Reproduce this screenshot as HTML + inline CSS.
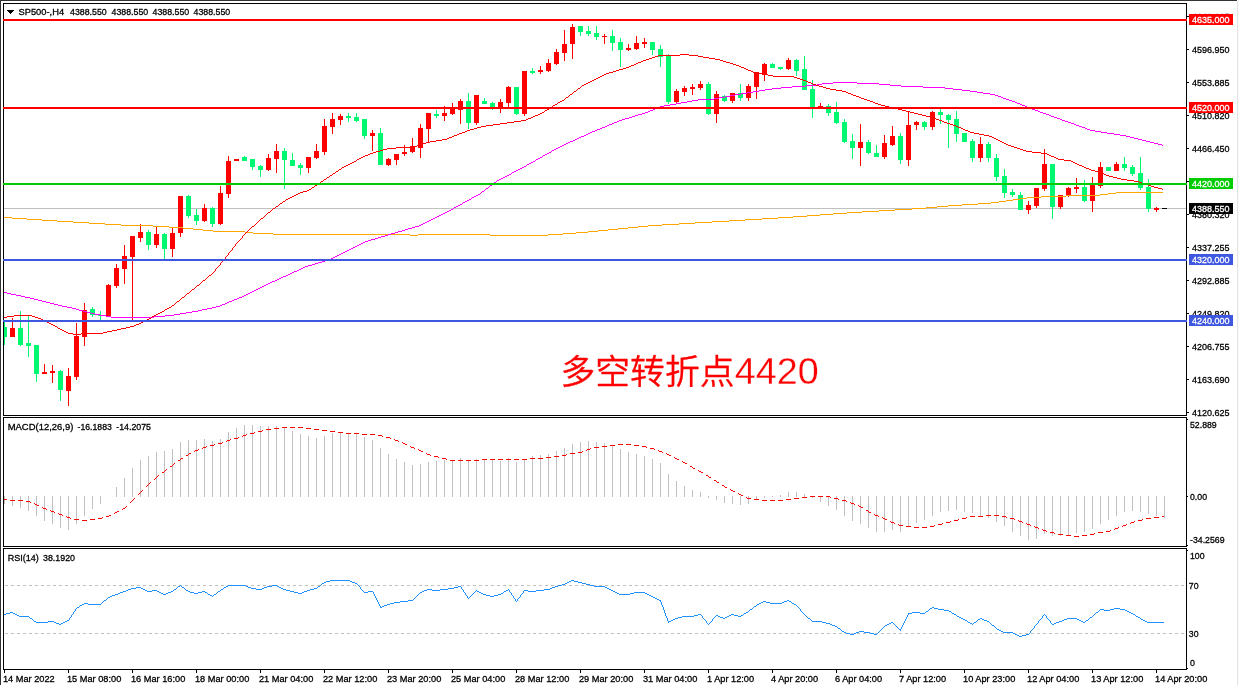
<!DOCTYPE html>
<html lang="zh"><head><meta charset="utf-8"><title>SP500 H4</title>
<style>html,body{margin:0;padding:0;background:#fff}svg text{white-space:pre}svg{will-change:transform}</style></head>
<body>
<svg width="1239" height="685" viewBox="0 0 1239 685" style="display:block">
<rect width="1239" height="685" fill="#fff"/>
<g shape-rendering="crispEdges">
<rect x="0" y="0" width="1237" height="1" fill="#333"/>
<rect x="0" y="0" width="1" height="685" fill="#333"/>
<rect x="1237" y="1" width="1" height="684" fill="#e4e4e4"/>
<rect x="1238" y="1" width="1" height="684" fill="#fafafa"/>
<rect x="3" y="3" width="1184" height="1" fill="#000"/>
<rect x="3" y="415" width="1184" height="1" fill="#000"/>
<rect x="3" y="3" width="1" height="413" fill="#000"/>
<rect x="1186" y="3" width="1" height="413" fill="#000"/>
<rect x="3" y="417" width="1184" height="1" fill="#000"/>
<rect x="3" y="546" width="1184" height="1" fill="#000"/>
<rect x="3" y="417" width="1" height="130" fill="#000"/>
<rect x="1186" y="417" width="1" height="130" fill="#000"/>
<rect x="3" y="548" width="1184" height="1" fill="#000"/>
<rect x="3" y="669" width="1184" height="1" fill="#000"/>
<rect x="3" y="548" width="1" height="122" fill="#000"/>
<rect x="1186" y="548" width="1" height="122" fill="#000"/>
</g>
<defs><clipPath id="cm"><rect x="4" y="4" width="1182" height="411"/></clipPath><clipPath id="cl"><rect x="3" y="4" width="1184" height="411"/></clipPath></defs>
<g clip-path="url(#cm)">
<g shape-rendering="crispEdges">
<rect x="4" y="208" width="1182" height="1" fill="#c0c0c0"/>
</g>
<g shape-rendering="crispEdges">
<rect x="4" y="320" width="1" height="25" fill="#00f772"/>
<rect x="2" y="327" width="5" height="10" fill="#00f772"/>
<rect x="12" y="318" width="1" height="19" fill="#ff0000"/>
<rect x="10" y="328" width="5" height="9" fill="#ff0000"/>
<rect x="20" y="311" width="1" height="35" fill="#00f772"/>
<rect x="18" y="328" width="5" height="17" fill="#00f772"/>
<rect x="28" y="315" width="1" height="42" fill="#00f772"/>
<rect x="26" y="343" width="5" height="3" fill="#00f772"/>
<rect x="36" y="345" width="1" height="37" fill="#00f772"/>
<rect x="34" y="345" width="5" height="29" fill="#00f772"/>
<rect x="44" y="364" width="1" height="10" fill="#ff0000"/>
<rect x="42" y="372" width="5" height="2" fill="#ff0000"/>
<rect x="52" y="365" width="1" height="18" fill="#ff0000"/>
<rect x="50" y="371" width="5" height="2" fill="#ff0000"/>
<rect x="60" y="370" width="1" height="31" fill="#00f772"/>
<rect x="58" y="371" width="5" height="19" fill="#00f772"/>
<rect x="68" y="368" width="1" height="38" fill="#ff0000"/>
<rect x="66" y="376" width="5" height="15" fill="#ff0000"/>
<rect x="76" y="323" width="1" height="57" fill="#ff0000"/>
<rect x="74" y="336" width="5" height="41" fill="#ff0000"/>
<rect x="84" y="303" width="1" height="43" fill="#ff0000"/>
<rect x="82" y="310" width="5" height="27" fill="#ff0000"/>
<rect x="92" y="307" width="1" height="10" fill="#00f772"/>
<rect x="90" y="309" width="5" height="6" fill="#00f772"/>
<rect x="100" y="311" width="1" height="9" fill="#00f772"/>
<rect x="98" y="315" width="5" height="1" fill="#00f772"/>
<rect x="108" y="284" width="1" height="32" fill="#ff0000"/>
<rect x="106" y="285" width="5" height="31" fill="#ff0000"/>
<rect x="116" y="264" width="1" height="24" fill="#ff0000"/>
<rect x="114" y="268" width="5" height="18" fill="#ff0000"/>
<rect x="124" y="245" width="1" height="39" fill="#ff0000"/>
<rect x="122" y="256" width="5" height="13" fill="#ff0000"/>
<rect x="132" y="236" width="1" height="84" fill="#ff0000"/>
<rect x="130" y="236" width="5" height="21" fill="#ff0000"/>
<rect x="140" y="224" width="1" height="18" fill="#ff0000"/>
<rect x="138" y="232" width="5" height="6" fill="#ff0000"/>
<rect x="148" y="230" width="1" height="20" fill="#00f772"/>
<rect x="146" y="232" width="5" height="13" fill="#00f772"/>
<rect x="156" y="226" width="1" height="22" fill="#ff0000"/>
<rect x="154" y="234" width="5" height="11" fill="#ff0000"/>
<rect x="164" y="233" width="1" height="26" fill="#00f772"/>
<rect x="162" y="234" width="5" height="15" fill="#00f772"/>
<rect x="172" y="228" width="1" height="29" fill="#ff0000"/>
<rect x="170" y="233" width="5" height="16" fill="#ff0000"/>
<rect x="180" y="196" width="1" height="41" fill="#ff0000"/>
<rect x="178" y="196" width="5" height="37" fill="#ff0000"/>
<rect x="188" y="195" width="1" height="23" fill="#00f772"/>
<rect x="186" y="196" width="5" height="20" fill="#00f772"/>
<rect x="196" y="209" width="1" height="16" fill="#00f772"/>
<rect x="194" y="215" width="5" height="6" fill="#00f772"/>
<rect x="204" y="204" width="1" height="18" fill="#ff0000"/>
<rect x="202" y="208" width="5" height="13" fill="#ff0000"/>
<rect x="212" y="207" width="1" height="20" fill="#00f772"/>
<rect x="210" y="208" width="5" height="16" fill="#00f772"/>
<rect x="220" y="186" width="1" height="39" fill="#ff0000"/>
<rect x="218" y="193" width="5" height="31" fill="#ff0000"/>
<rect x="228" y="156" width="1" height="42" fill="#ff0000"/>
<rect x="226" y="161" width="5" height="33" fill="#ff0000"/>
<rect x="236" y="159" width="1" height="2" fill="#ff0000"/>
<rect x="234" y="159" width="5" height="2" fill="#ff0000"/>
<rect x="244" y="156" width="1" height="5" fill="#00f772"/>
<rect x="242" y="157" width="5" height="4" fill="#00f772"/>
<rect x="252" y="159" width="1" height="11" fill="#00f772"/>
<rect x="250" y="159" width="5" height="8" fill="#00f772"/>
<rect x="260" y="165" width="1" height="12" fill="#00f772"/>
<rect x="258" y="166" width="5" height="4" fill="#00f772"/>
<rect x="268" y="154" width="1" height="17" fill="#ff0000"/>
<rect x="266" y="158" width="5" height="12" fill="#ff0000"/>
<rect x="276" y="144" width="1" height="29" fill="#ff0000"/>
<rect x="274" y="151" width="5" height="8" fill="#ff0000"/>
<rect x="284" y="148" width="1" height="41" fill="#00f772"/>
<rect x="282" y="151" width="5" height="9" fill="#00f772"/>
<rect x="292" y="153" width="1" height="13" fill="#00f772"/>
<rect x="290" y="160" width="5" height="6" fill="#00f772"/>
<rect x="300" y="163" width="1" height="12" fill="#00f772"/>
<rect x="298" y="165" width="5" height="3" fill="#00f772"/>
<rect x="308" y="157" width="1" height="16" fill="#ff0000"/>
<rect x="306" y="157" width="5" height="11" fill="#ff0000"/>
<rect x="316" y="144" width="1" height="15" fill="#ff0000"/>
<rect x="314" y="151" width="5" height="7" fill="#ff0000"/>
<rect x="324" y="119" width="1" height="36" fill="#ff0000"/>
<rect x="322" y="126" width="5" height="26" fill="#ff0000"/>
<rect x="332" y="113" width="1" height="21" fill="#ff0000"/>
<rect x="330" y="119" width="5" height="8" fill="#ff0000"/>
<rect x="340" y="114" width="1" height="11" fill="#ff0000"/>
<rect x="338" y="116" width="5" height="4" fill="#ff0000"/>
<rect x="348" y="113" width="1" height="9" fill="#00f772"/>
<rect x="346" y="116" width="5" height="2" fill="#00f772"/>
<rect x="356" y="113" width="1" height="9" fill="#00f772"/>
<rect x="354" y="117" width="5" height="4" fill="#00f772"/>
<rect x="364" y="119" width="1" height="20" fill="#00f772"/>
<rect x="362" y="119" width="5" height="17" fill="#00f772"/>
<rect x="372" y="130" width="1" height="21" fill="#ff0000"/>
<rect x="370" y="133" width="5" height="3" fill="#ff0000"/>
<rect x="380" y="128" width="1" height="37" fill="#00f772"/>
<rect x="378" y="133" width="5" height="32" fill="#00f772"/>
<rect x="388" y="158" width="1" height="8" fill="#ff0000"/>
<rect x="386" y="159" width="5" height="6" fill="#ff0000"/>
<rect x="396" y="154" width="1" height="11" fill="#ff0000"/>
<rect x="394" y="154" width="5" height="6" fill="#ff0000"/>
<rect x="404" y="145" width="1" height="11" fill="#ff0000"/>
<rect x="402" y="152" width="5" height="2" fill="#ff0000"/>
<rect x="412" y="138" width="1" height="15" fill="#ff0000"/>
<rect x="410" y="147" width="5" height="5" fill="#ff0000"/>
<rect x="420" y="124" width="1" height="34" fill="#ff0000"/>
<rect x="418" y="128" width="5" height="20" fill="#ff0000"/>
<rect x="428" y="113" width="1" height="30" fill="#ff0000"/>
<rect x="426" y="113" width="5" height="16" fill="#ff0000"/>
<rect x="436" y="110" width="1" height="8" fill="#00f772"/>
<rect x="434" y="114" width="5" height="2" fill="#00f772"/>
<rect x="444" y="106" width="1" height="15" fill="#ff0000"/>
<rect x="442" y="113" width="5" height="3" fill="#ff0000"/>
<rect x="452" y="103" width="1" height="12" fill="#ff0000"/>
<rect x="450" y="109" width="5" height="5" fill="#ff0000"/>
<rect x="460" y="99" width="1" height="25" fill="#ff0000"/>
<rect x="458" y="101" width="5" height="9" fill="#ff0000"/>
<rect x="468" y="93" width="1" height="36" fill="#00f772"/>
<rect x="466" y="101" width="5" height="22" fill="#00f772"/>
<rect x="476" y="95" width="1" height="30" fill="#ff0000"/>
<rect x="474" y="95" width="5" height="28" fill="#ff0000"/>
<rect x="484" y="98" width="1" height="6" fill="#00f772"/>
<rect x="482" y="101" width="5" height="3" fill="#00f772"/>
<rect x="492" y="102" width="1" height="8" fill="#00f772"/>
<rect x="490" y="103" width="5" height="4" fill="#00f772"/>
<rect x="500" y="99" width="1" height="14" fill="#ff0000"/>
<rect x="498" y="102" width="5" height="7" fill="#ff0000"/>
<rect x="508" y="86" width="1" height="22" fill="#ff0000"/>
<rect x="506" y="87" width="5" height="16" fill="#ff0000"/>
<rect x="516" y="87" width="1" height="28" fill="#00f772"/>
<rect x="514" y="87" width="5" height="27" fill="#00f772"/>
<rect x="524" y="71" width="1" height="45" fill="#ff0000"/>
<rect x="522" y="71" width="5" height="43" fill="#ff0000"/>
<rect x="532" y="68" width="1" height="6" fill="#00f772"/>
<rect x="530" y="71" width="5" height="2" fill="#00f772"/>
<rect x="540" y="66" width="1" height="8" fill="#ff0000"/>
<rect x="538" y="70" width="5" height="2" fill="#ff0000"/>
<rect x="548" y="59" width="1" height="13" fill="#ff0000"/>
<rect x="546" y="63" width="5" height="8" fill="#ff0000"/>
<rect x="556" y="49" width="1" height="16" fill="#ff0000"/>
<rect x="554" y="52" width="5" height="12" fill="#ff0000"/>
<rect x="564" y="30" width="1" height="31" fill="#ff0000"/>
<rect x="562" y="44" width="5" height="9" fill="#ff0000"/>
<rect x="572" y="24" width="1" height="35" fill="#ff0000"/>
<rect x="570" y="27" width="5" height="17" fill="#ff0000"/>
<rect x="580" y="26" width="1" height="10" fill="#00f772"/>
<rect x="578" y="26" width="5" height="6" fill="#00f772"/>
<rect x="588" y="26" width="1" height="10" fill="#00f772"/>
<rect x="586" y="31" width="5" height="3" fill="#00f772"/>
<rect x="596" y="26" width="1" height="14" fill="#00f772"/>
<rect x="594" y="33" width="5" height="4" fill="#00f772"/>
<rect x="604" y="34" width="1" height="10" fill="#ff0000"/>
<rect x="602" y="36" width="5" height="1" fill="#ff0000"/>
<rect x="612" y="30" width="1" height="21" fill="#00f772"/>
<rect x="610" y="36" width="5" height="7" fill="#00f772"/>
<rect x="620" y="38" width="1" height="29" fill="#00f772"/>
<rect x="618" y="42" width="5" height="8" fill="#00f772"/>
<rect x="628" y="44" width="1" height="7" fill="#ff0000"/>
<rect x="626" y="48" width="5" height="2" fill="#ff0000"/>
<rect x="636" y="36" width="1" height="14" fill="#ff0000"/>
<rect x="634" y="43" width="5" height="6" fill="#ff0000"/>
<rect x="644" y="38" width="1" height="10" fill="#ff0000"/>
<rect x="642" y="42" width="5" height="2" fill="#ff0000"/>
<rect x="652" y="42" width="1" height="13" fill="#00f772"/>
<rect x="650" y="42" width="5" height="8" fill="#00f772"/>
<rect x="660" y="45" width="1" height="22" fill="#00f772"/>
<rect x="658" y="49" width="5" height="8" fill="#00f772"/>
<rect x="668" y="54" width="1" height="50" fill="#00f772"/>
<rect x="666" y="56" width="5" height="46" fill="#00f772"/>
<rect x="676" y="89" width="1" height="14" fill="#ff0000"/>
<rect x="674" y="91" width="5" height="11" fill="#ff0000"/>
<rect x="684" y="86" width="1" height="10" fill="#ff0000"/>
<rect x="682" y="88" width="5" height="4" fill="#ff0000"/>
<rect x="692" y="84" width="1" height="11" fill="#ff0000"/>
<rect x="690" y="87" width="5" height="2" fill="#ff0000"/>
<rect x="700" y="81" width="1" height="9" fill="#ff0000"/>
<rect x="698" y="84" width="5" height="4" fill="#ff0000"/>
<rect x="708" y="82" width="1" height="33" fill="#00f772"/>
<rect x="706" y="84" width="5" height="30" fill="#00f772"/>
<rect x="716" y="91" width="1" height="32" fill="#ff0000"/>
<rect x="714" y="94" width="5" height="20" fill="#ff0000"/>
<rect x="724" y="95" width="1" height="7" fill="#00f772"/>
<rect x="722" y="96" width="5" height="5" fill="#00f772"/>
<rect x="732" y="93" width="1" height="10" fill="#ff0000"/>
<rect x="730" y="93" width="5" height="8" fill="#ff0000"/>
<rect x="740" y="84" width="1" height="17" fill="#00f772"/>
<rect x="738" y="93" width="5" height="5" fill="#00f772"/>
<rect x="748" y="84" width="1" height="17" fill="#ff0000"/>
<rect x="746" y="86" width="5" height="12" fill="#ff0000"/>
<rect x="756" y="72" width="1" height="27" fill="#ff0000"/>
<rect x="754" y="72" width="5" height="15" fill="#ff0000"/>
<rect x="764" y="63" width="1" height="18" fill="#ff0000"/>
<rect x="762" y="64" width="5" height="10" fill="#ff0000"/>
<rect x="772" y="63" width="1" height="5" fill="#00f772"/>
<rect x="770" y="64" width="5" height="4" fill="#00f772"/>
<rect x="780" y="67" width="1" height="3" fill="#00f772"/>
<rect x="778" y="67" width="5" height="2" fill="#00f772"/>
<rect x="788" y="58" width="1" height="12" fill="#ff0000"/>
<rect x="786" y="60" width="5" height="9" fill="#ff0000"/>
<rect x="796" y="59" width="1" height="17" fill="#00f772"/>
<rect x="794" y="60" width="5" height="11" fill="#00f772"/>
<rect x="804" y="56" width="1" height="34" fill="#00f772"/>
<rect x="802" y="69" width="5" height="21" fill="#00f772"/>
<rect x="812" y="80" width="1" height="38" fill="#00f772"/>
<rect x="810" y="89" width="5" height="19" fill="#00f772"/>
<rect x="820" y="103" width="1" height="5" fill="#ff0000"/>
<rect x="818" y="106" width="5" height="2" fill="#ff0000"/>
<rect x="828" y="104" width="1" height="12" fill="#00f772"/>
<rect x="826" y="106" width="5" height="7" fill="#00f772"/>
<rect x="836" y="102" width="1" height="22" fill="#00f772"/>
<rect x="834" y="112" width="5" height="11" fill="#00f772"/>
<rect x="844" y="119" width="1" height="24" fill="#00f772"/>
<rect x="842" y="122" width="5" height="20" fill="#00f772"/>
<rect x="852" y="134" width="1" height="25" fill="#00f772"/>
<rect x="850" y="141" width="5" height="7" fill="#00f772"/>
<rect x="860" y="124" width="1" height="42" fill="#ff0000"/>
<rect x="858" y="142" width="5" height="6" fill="#ff0000"/>
<rect x="868" y="140" width="1" height="14" fill="#00f772"/>
<rect x="866" y="142" width="5" height="11" fill="#00f772"/>
<rect x="876" y="145" width="1" height="12" fill="#00f772"/>
<rect x="874" y="153" width="5" height="4" fill="#00f772"/>
<rect x="884" y="135" width="1" height="24" fill="#ff0000"/>
<rect x="882" y="143" width="5" height="14" fill="#ff0000"/>
<rect x="892" y="126" width="1" height="20" fill="#ff0000"/>
<rect x="890" y="136" width="5" height="9" fill="#ff0000"/>
<rect x="900" y="133" width="1" height="31" fill="#00f772"/>
<rect x="898" y="136" width="5" height="24" fill="#00f772"/>
<rect x="908" y="112" width="1" height="54" fill="#ff0000"/>
<rect x="906" y="125" width="5" height="35" fill="#ff0000"/>
<rect x="916" y="121" width="1" height="9" fill="#ff0000"/>
<rect x="914" y="122" width="5" height="3" fill="#ff0000"/>
<rect x="924" y="121" width="1" height="9" fill="#00f772"/>
<rect x="922" y="122" width="5" height="5" fill="#00f772"/>
<rect x="932" y="111" width="1" height="19" fill="#ff0000"/>
<rect x="930" y="112" width="5" height="15" fill="#ff0000"/>
<rect x="940" y="109" width="1" height="15" fill="#00f772"/>
<rect x="938" y="112" width="5" height="3" fill="#00f772"/>
<rect x="948" y="114" width="1" height="34" fill="#00f772"/>
<rect x="946" y="115" width="5" height="5" fill="#00f772"/>
<rect x="956" y="111" width="1" height="31" fill="#00f772"/>
<rect x="954" y="119" width="5" height="15" fill="#00f772"/>
<rect x="964" y="133" width="1" height="9" fill="#00f772"/>
<rect x="962" y="133" width="5" height="9" fill="#00f772"/>
<rect x="972" y="139" width="1" height="23" fill="#00f772"/>
<rect x="970" y="141" width="5" height="17" fill="#00f772"/>
<rect x="980" y="137" width="1" height="25" fill="#ff0000"/>
<rect x="978" y="144" width="5" height="14" fill="#ff0000"/>
<rect x="988" y="142" width="1" height="20" fill="#00f772"/>
<rect x="986" y="144" width="5" height="14" fill="#00f772"/>
<rect x="996" y="154" width="1" height="27" fill="#00f772"/>
<rect x="994" y="158" width="5" height="19" fill="#00f772"/>
<rect x="1004" y="169" width="1" height="29" fill="#00f772"/>
<rect x="1002" y="176" width="5" height="17" fill="#00f772"/>
<rect x="1012" y="189" width="1" height="8" fill="#00f772"/>
<rect x="1010" y="192" width="5" height="3" fill="#00f772"/>
<rect x="1020" y="192" width="1" height="18" fill="#00f772"/>
<rect x="1018" y="195" width="5" height="15" fill="#00f772"/>
<rect x="1028" y="201" width="1" height="13" fill="#ff0000"/>
<rect x="1026" y="205" width="5" height="5" fill="#ff0000"/>
<rect x="1036" y="188" width="1" height="20" fill="#ff0000"/>
<rect x="1034" y="188" width="5" height="18" fill="#ff0000"/>
<rect x="1044" y="149" width="1" height="42" fill="#ff0000"/>
<rect x="1042" y="164" width="5" height="25" fill="#ff0000"/>
<rect x="1052" y="164" width="1" height="55" fill="#00f772"/>
<rect x="1050" y="164" width="5" height="43" fill="#00f772"/>
<rect x="1060" y="195" width="1" height="14" fill="#ff0000"/>
<rect x="1058" y="195" width="5" height="12" fill="#ff0000"/>
<rect x="1068" y="187" width="1" height="10" fill="#ff0000"/>
<rect x="1066" y="188" width="5" height="7" fill="#ff0000"/>
<rect x="1076" y="178" width="1" height="15" fill="#ff0000"/>
<rect x="1074" y="187" width="5" height="2" fill="#ff0000"/>
<rect x="1084" y="180" width="1" height="22" fill="#00f772"/>
<rect x="1082" y="187" width="5" height="14" fill="#00f772"/>
<rect x="1092" y="177" width="1" height="35" fill="#ff0000"/>
<rect x="1090" y="185" width="5" height="16" fill="#ff0000"/>
<rect x="1100" y="162" width="1" height="26" fill="#ff0000"/>
<rect x="1098" y="167" width="5" height="19" fill="#ff0000"/>
<rect x="1108" y="167" width="1" height="4" fill="#00f772"/>
<rect x="1106" y="167" width="5" height="4" fill="#00f772"/>
<rect x="1116" y="162" width="1" height="9" fill="#ff0000"/>
<rect x="1114" y="164" width="5" height="7" fill="#ff0000"/>
<rect x="1124" y="157" width="1" height="14" fill="#00f772"/>
<rect x="1122" y="164" width="5" height="4" fill="#00f772"/>
<rect x="1132" y="165" width="1" height="11" fill="#00f772"/>
<rect x="1130" y="167" width="5" height="7" fill="#00f772"/>
<rect x="1140" y="157" width="1" height="33" fill="#00f772"/>
<rect x="1138" y="173" width="5" height="15" fill="#00f772"/>
<rect x="1148" y="179" width="1" height="33" fill="#00f772"/>
<rect x="1146" y="187" width="5" height="22" fill="#00f772"/>
<rect x="1156" y="207" width="1" height="5" fill="#ff0000"/>
<rect x="1154" y="208" width="5" height="2" fill="#ff0000"/>
<rect x="1162" y="208" width="5" height="1" fill="#000"/>
</g>
<path d="M1116 192.5h47M1108 193.5h8M1100 194.5h8M1066 195.5h34M1041 196.5h25M1027 197.5h14M1020 198.5h7M1013 199.5h7M1006 200.5h7M999 201.5h7M991 202.5h8M978 203.5h13M962 204.5h16M948 205.5h14M937 206.5h11M926 207.5h11M912 208.5h14M895 209.5h17M879 210.5h16M862 211.5h17M847 212.5h15M833 213.5h14M820 214.5h13M807 215.5h13M793 216.5h14M4 217.5h8M778 217.5h15M12 218.5h15M762 218.5h16M27 219.5h15M745 219.5h17M42 220.5h15M729 220.5h16M57 221.5h16M712 221.5h17M73 222.5h16M695 222.5h17M89 223.5h16M679 223.5h16M105 224.5h16M662 224.5h17M121 225.5h32M648 225.5h14M153 226.5h16M638 226.5h10M169 227.5h14M628 227.5h10M183 228.5h10M618 228.5h10M193 229.5h10M608 229.5h10M203 230.5h10M598 230.5h10M213 231.5h32M588 231.5h10M245 232.5h8M576 232.5h12M253 233.5h20M563 233.5h13M273 234.5h137M418 234.5h72M548 234.5h15M410 235.5h8M490 235.5h58" fill="none" stroke="#ffa500" stroke-width="1" shape-rendering="crispEdges"/>
<path d="M833 82.5h24M822 83.5h11M857 83.5h22M817 84.5h5M879 84.5h11M806 85.5h11M890 85.5h11M792 86.5h14M901 86.5h22M781 87.5h11M923 87.5h22M772 88.5h9M945 88.5h8M765 89.5h7M953 89.5h9M759 90.5h6M962 90.5h8M753 91.5h6M970 91.5h7M747 92.5h6M977 92.5h6M741 93.5h6M983 93.5h7M735 94.5h6M990 94.5h5M730 95.5h5M995 95.5h3M725 96.5h5M998 96.5h3M719 97.5h6M1001 97.5h2M714 98.5h5M1003 98.5h3M698 99.5h16M1006 99.5h3M692 100.5h6M1009 100.5h3M687 101.5h5M1012 101.5h3M681 102.5h6M1015 102.5h2M676 103.5h5M1017 103.5h3M670 104.5h6M1020 104.5h2M664 105.5h6M1022 105.5h3M660 106.5h4M1025 106.5h2M658 107.5h2M1027 107.5h3M655 108.5h3M1030 108.5h2M653 109.5h2M1032 109.5h3M650 110.5h3M1035 110.5h3M648 111.5h2M1038 111.5h2M645 112.5h3M1040 112.5h3M642 113.5h3M1043 113.5h3M638 114.5h4M1046 114.5h3M635 115.5h3M1049 115.5h2M632 116.5h3M1051 116.5h3M629 117.5h3M1054 117.5h3M625 118.5h4M1057 118.5h3M622 119.5h3M1060 119.5h2M619 120.5h3M1062 120.5h3M617 121.5h2M1065 121.5h3M614 122.5h3M1068 122.5h3M612 123.5h2M1071 123.5h3M609 124.5h3M1074 124.5h2M607 125.5h2M1076 125.5h3M605 126.5h2M1079 126.5h3M602 127.5h3M1082 127.5h3M600 128.5h2M1085 128.5h2M597 129.5h3M1087 129.5h3M595 130.5h2M1090 130.5h5M592 131.5h3M1095 131.5h6M590 132.5h2M1101 132.5h6M588 133.5h2M1107 133.5h7M586 134.5h2M1114 134.5h6M584 135.5h2M1120 135.5h6M581 136.5h3M1126 136.5h4M579 137.5h2M1130 137.5h4M577 138.5h2M1134 138.5h4M575 139.5h2M1138 139.5h4M573 140.5h2M1142 140.5h4M570 141.5h3M1146 141.5h4M568 142.5h2M1150 142.5h4M566 143.5h2M1154 143.5h4M564 144.5h2M1158 144.5h4M562 145.5h2M1162 145.5h1M560 146.5h2M558 147.5h2M556 148.5h2M554 149.5h2M552 150.5h2M551 151.5h1M549 152.5h2M547 153.5h2M545 154.5h2M543 155.5h2M542 156.5h1M540 157.5h2M538 158.5h2M536 159.5h2M535 160.5h1M533 161.5h2M531 162.5h2M529 163.5h2M527 164.5h2M526 165.5h1M524 166.5h2M522 167.5h2M520 168.5h2M518 169.5h2M516 170.5h2M514 171.5h2M512 172.5h2M511 173.5h1M509 174.5h2M507 175.5h2M505 176.5h2M503 177.5h2M501 178.5h2M499 179.5h2M497 180.5h2M496 181.5h1M494 182.5h2M493 183.5h1M492 184.5h1M490 185.5h2M489 186.5h1M488 187.5h1M486 188.5h2M485 189.5h1M484 190.5h1M482 191.5h2M481 192.5h1M480 193.5h1M478 194.5h2M476 195.5h2M474 196.5h2M472 197.5h2M471 198.5h1M469 199.5h2M467 200.5h2M465 201.5h2M463 202.5h2M462 203.5h1M460 204.5h2M458 205.5h2M456 206.5h2M454 207.5h2M453 208.5h1M451 209.5h2M449 210.5h2M447 211.5h2M445 212.5h2M443 213.5h2M441 214.5h2M439 215.5h2M437 216.5h2M435 217.5h2M433 218.5h2M431 219.5h2M429 220.5h2M427 221.5h2M425 222.5h2M423 223.5h2M421 224.5h2M419 225.5h2M415 226.5h4M412 227.5h3M408 228.5h4M405 229.5h3M402 230.5h3M398 231.5h4M395 232.5h3M391 233.5h4M388 234.5h3M385 235.5h3M381 236.5h4M378 237.5h3M375 238.5h3M371 239.5h4M368 240.5h3M365 241.5h3M363 242.5h2M361 243.5h2M359 244.5h2M357 245.5h2M355 246.5h2M353 247.5h2M351 248.5h2M349 249.5h2M347 250.5h2M345 251.5h2M343 252.5h2M341 253.5h2M339 254.5h2M337 255.5h2M335 256.5h2M333 257.5h2M331 258.5h2M329 259.5h2M325 260.5h4M322 261.5h3M318 262.5h4M315 263.5h3M312 264.5h3M308 265.5h4M305 266.5h3M303 267.5h2M301 268.5h2M299 269.5h2M297 270.5h2M294 271.5h3M292 272.5h2M290 273.5h2M288 274.5h2M286 275.5h2M283 276.5h3M281 277.5h2M279 278.5h2M277 279.5h2M275 280.5h2M272 281.5h3M270 282.5h2M268 283.5h2M266 284.5h2M264 285.5h2M262 286.5h2M260 287.5h2M258 288.5h2M256 289.5h2M254 290.5h2M252 291.5h2M4 292.5h3M250 292.5h2M7 293.5h4M248 293.5h2M11 294.5h5M246 294.5h2M16 295.5h5M244 295.5h2M21 296.5h4M242 296.5h2M25 297.5h5M239 297.5h3M30 298.5h4M237 298.5h2M34 299.5h4M234 299.5h3M38 300.5h4M232 300.5h2M42 301.5h4M229 301.5h3M46 302.5h4M227 302.5h2M50 303.5h4M225 303.5h2M54 304.5h4M222 304.5h3M58 305.5h4M220 305.5h2M62 306.5h5M216 306.5h4M67 307.5h5M212 307.5h4M72 308.5h4M207 308.5h5M76 309.5h3M202 309.5h5M79 310.5h4M198 310.5h4M83 311.5h4M192 311.5h6M87 312.5h4M186 312.5h6M91 313.5h4M180 313.5h6M95 314.5h5M174 314.5h6M100 315.5h6M165 315.5h9M106 316.5h5M154 316.5h11M111 317.5h43" fill="none" stroke="#ff00ff" stroke-width="1" shape-rendering="crispEdges"/>
<path d="M680 54.5h9M658 55.5h22M689 55.5h9M655 56.5h3M698 56.5h5M652 57.5h3M703 57.5h6M649 58.5h3M709 58.5h6M646 59.5h3M715 59.5h5M643 60.5h3M720 60.5h3M641 61.5h2M723 61.5h3M638 62.5h3M726 62.5h4M636 63.5h2M730 63.5h3M634 64.5h2M733 64.5h3M631 65.5h3M736 65.5h3M629 66.5h2M739 66.5h2M626 67.5h3M741 67.5h3M623 68.5h3M744 68.5h2M619 69.5h4M746 69.5h2M616 70.5h3M748 70.5h3M613 71.5h3M751 71.5h2M609 72.5h4M753 72.5h4M606 73.5h3M757 73.5h5M604 74.5h2M762 74.5h6M602 75.5h2M768 75.5h5M600 76.5h2M773 76.5h21M598 77.5h2M794 77.5h3M596 78.5h2M797 78.5h3M594 79.5h2M800 79.5h3M592 80.5h2M803 80.5h3M590 81.5h2M806 81.5h2M588 82.5h2M808 82.5h3M586 83.5h2M811 83.5h2M584 84.5h2M813 84.5h3M582 85.5h2M816 85.5h3M581 86.5h1M819 86.5h4M580 87.5h1M823 87.5h3M578 88.5h2M826 88.5h4M577 89.5h1M830 89.5h6M576 90.5h1M836 90.5h6M574 91.5h2M842 91.5h4M573 92.5h1M846 92.5h2M572 93.5h1M848 93.5h3M570 94.5h2M851 94.5h2M569 95.5h1M853 95.5h3M568 96.5h1M856 96.5h3M566 97.5h2M859 97.5h2M565 98.5h1M861 98.5h3M564 99.5h1M864 99.5h3M562 100.5h2M867 100.5h3M560 101.5h2M870 101.5h3M558 102.5h2M873 102.5h2M557 103.5h1M875 103.5h3M555 104.5h2M878 104.5h3M553 105.5h2M881 105.5h4M552 106.5h1M885 106.5h4M550 107.5h2M889 107.5h4M549 108.5h1M893 108.5h5M547 109.5h2M898 109.5h4M545 110.5h2M902 110.5h4M544 111.5h1M906 111.5h4M542 112.5h2M910 112.5h4M540 113.5h2M914 113.5h4M538 114.5h2M918 114.5h4M535 115.5h3M922 115.5h4M533 116.5h2M926 116.5h4M531 117.5h2M930 117.5h3M528 118.5h3M933 118.5h3M526 119.5h2M936 119.5h3M521 120.5h5M939 120.5h3M514 121.5h7M942 121.5h2M507 122.5h7M944 122.5h3M500 123.5h7M947 123.5h3M493 124.5h7M950 124.5h3M486 125.5h7M953 125.5h3M481 126.5h5M956 126.5h2M477 127.5h4M958 127.5h3M474 128.5h3M961 128.5h2M470 129.5h4M963 129.5h2M467 130.5h3M965 130.5h3M465 131.5h2M968 131.5h2M462 132.5h3M970 132.5h4M459 133.5h3M974 133.5h5M457 134.5h2M979 134.5h5M454 135.5h3M984 135.5h5M452 136.5h2M989 136.5h3M449 137.5h3M992 137.5h2M447 138.5h2M994 138.5h2M442 139.5h5M996 139.5h2M436 140.5h6M998 140.5h2M430 141.5h6M1000 141.5h2M426 142.5h4M1002 142.5h2M423 143.5h3M1004 143.5h2M420 144.5h3M1006 144.5h2M417 145.5h3M1008 145.5h3M410 146.5h7M1011 146.5h3M396 147.5h14M1014 147.5h3M387 148.5h9M1017 148.5h3M383 149.5h4M1020 149.5h3M380 150.5h3M1023 150.5h3M376 151.5h4M1026 151.5h6M373 152.5h3M1032 152.5h9M370 153.5h3M1041 153.5h6M368 154.5h2M1047 154.5h2M365 155.5h3M1049 155.5h2M363 156.5h2M1051 156.5h3M361 157.5h2M1054 157.5h2M359 158.5h2M1056 158.5h2M357 159.5h2M1058 159.5h6M356 160.5h1M1064 160.5h7M354 161.5h2M1071 161.5h2M352 162.5h2M1073 162.5h2M350 163.5h2M1075 163.5h2M348 164.5h2M1077 164.5h2M346 165.5h2M1079 165.5h3M344 166.5h2M1082 166.5h2M342 167.5h2M1084 167.5h2M341 168.5h1M1086 168.5h3M339 169.5h2M1089 169.5h2M338 170.5h1M1091 170.5h4M336 171.5h2M1095 171.5h4M335 172.5h1M1099 172.5h2M333 173.5h2M1101 173.5h3M332 174.5h1M1104 174.5h2M330 175.5h2M1106 175.5h3M329 176.5h1M1109 176.5h4M327 177.5h2M1113 177.5h4M326 178.5h1M1117 178.5h4M324 179.5h2M1121 179.5h6M323 180.5h1M1127 180.5h7M321 181.5h2M1134 181.5h5M320 182.5h1M1139 182.5h3M318 183.5h2M1142 183.5h3M317 184.5h1M1145 184.5h3M315 185.5h2M1148 185.5h3M314 186.5h1M1151 186.5h3M312 187.5h2M1154 187.5h4M311 188.5h1M1158 188.5h4M309 189.5h2M1162 189.5h1M307 190.5h2M303 191.5h4M300 192.5h3M298 193.5h2M296 194.5h2M294 195.5h2M292 196.5h2M290 197.5h2M288 198.5h2M286 199.5h2M285 200.5h1M283 201.5h2M282 202.5h1M280 203.5h2M279 204.5h1M278 205.5h1M276 206.5h2M275 207.5h1M273 208.5h2M272 209.5h1M271 210.5h1M270 211.5h1M268 212.5h2M267 213.5h1M266 214.5h1M265 215.5h1M264 216.5h1M263 217.5h1M261 218.5h2M260 219.5h1M259 220.5h1M258 221.5h1M257 222.5h1M256 223.5h1M255 224.5h1M254 225.5h1M252 226.5h2M251 227.5h1M250 228.5h1M249 229.5h1M248 230.5h1M247 231.5h1M246 232.5h1M245 233.5h1M244 234.5h1M243 235.5h1M242 236.5h1M242 237.5h1M241 238.5h1M240 239.5h1M239 240.5h1M238 241.5h1M237 242.5h1M236 243.5h1M235 244.5h1M235 245.5h1M234 246.5h1M233 247.5h1M232 248.5h1M232 249.5h1M231 250.5h1M230 251.5h1M229 252.5h1M228 253.5h1M228 254.5h1M227 255.5h1M226 256.5h1M225 257.5h1M225 258.5h1M224 259.5h1M223 260.5h1M222 261.5h1M221 262.5h1M220 263.5h1M220 264.5h1M219 265.5h1M218 266.5h1M217 267.5h1M216 268.5h1M215 269.5h1M215 270.5h1M214 271.5h1M213 272.5h1M212 273.5h1M211 274.5h1M209 275.5h2M208 276.5h1M207 277.5h1M206 278.5h1M205 279.5h1M203 280.5h2M202 281.5h1M201 282.5h1M200 283.5h1M199 284.5h1M197 285.5h2M196 286.5h1M195 287.5h1M194 288.5h1M192 289.5h2M191 290.5h1M190 291.5h1M189 292.5h1M187 293.5h2M186 294.5h1M185 295.5h1M184 296.5h1M182 297.5h2M181 298.5h1M180 299.5h1M179 300.5h1M177 301.5h2M176 302.5h1M175 303.5h1M174 304.5h1M172 305.5h2M171 306.5h1M169 307.5h2M167 308.5h2M165 309.5h2M164 310.5h1M162 311.5h2M160 312.5h2M158 313.5h2M156 314.5h2M14 315.5h18M154 315.5h2M7 316.5h7M32 316.5h3M152 316.5h2M3 317.5h4M35 317.5h3M151 317.5h1M38 318.5h3M149 318.5h2M41 319.5h2M147 319.5h2M43 320.5h2M145 320.5h2M45 321.5h2M143 321.5h2M47 322.5h2M141 322.5h2M49 323.5h2M139 323.5h2M51 324.5h2M136 324.5h3M53 325.5h2M134 325.5h2M55 326.5h2M130 326.5h4M57 327.5h1M126 327.5h4M58 328.5h2M121 328.5h5M60 329.5h2M117 329.5h4M62 330.5h2M112 330.5h5M64 331.5h2M107 331.5h5M66 332.5h2M103 332.5h4M68 333.5h5M81 333.5h22M73 334.5h8" fill="none" stroke="#ff0000" stroke-width="1" shape-rendering="crispEdges"/>
</g>
<g shape-rendering="crispEdges" clip-path="url(#cl)">
<rect x="3" y="19" width="1184" height="2" fill="#ff0000"/>
<rect x="3" y="107" width="1184" height="2" fill="#ff0000"/>
<rect x="3" y="183" width="1184" height="2" fill="#00cc00"/>
<rect x="3" y="259" width="1184" height="2" fill="#3f57e0"/>
<rect x="3" y="320" width="1184" height="2" fill="#3f57e0"/>
</g>
<text x="560.5" y="383.5" font-family="'Liberation Sans', 'Noto Sans CJK SC', sans-serif" font-size="34.4" fill="#ff0000" stroke="#ff0000" stroke-width="0.3" font-weight="350" textLength="174" lengthAdjust="spacingAndGlyphs">多空转折点</text>
<text x="734.8" y="383.7" font-family="'Liberation Sans', 'Noto Sans CJK SC', sans-serif" font-size="37.7" fill="#ff0000" stroke="#fff" stroke-width="0.3" textLength="84" lengthAdjust="spacingAndGlyphs">4420</text>
<g font-family="'Liberation Sans', sans-serif" font-size="9.7">
<path d="M7 10h7l-3.5 4z" fill="#000" shape-rendering="crispEdges"/>
<text x="18.5" y="15" fill="#000" stroke="#000" stroke-width="0.3" textLength="45.6" lengthAdjust="spacingAndGlyphs">SP500-,H4</text>
<text x="70" y="15" fill="#000" stroke="#000" stroke-width="0.3" textLength="36.7" lengthAdjust="spacingAndGlyphs">4388.550</text>
<text x="111.5" y="15" fill="#000" stroke="#000" stroke-width="0.3" textLength="36.7" lengthAdjust="spacingAndGlyphs">4388.550</text>
<text x="152.5" y="15" fill="#000" stroke="#000" stroke-width="0.3" textLength="36.7" lengthAdjust="spacingAndGlyphs">4388.550</text>
<text x="193.5" y="15" fill="#000" stroke="#000" stroke-width="0.3" textLength="36.7" lengthAdjust="spacingAndGlyphs">4388.550</text>
<g shape-rendering="crispEdges">
<rect x="1187" y="16" width="2" height="1" fill="#000"/>
<rect x="1187" y="49" width="2" height="1" fill="#000"/>
<rect x="1187" y="82" width="2" height="1" fill="#000"/>
<rect x="1187" y="115" width="2" height="1" fill="#000"/>
<rect x="1187" y="148" width="2" height="1" fill="#000"/>
<rect x="1187" y="181" width="2" height="1" fill="#000"/>
<rect x="1187" y="214" width="2" height="1" fill="#000"/>
<rect x="1187" y="247" width="2" height="1" fill="#000"/>
<rect x="1187" y="280" width="2" height="1" fill="#000"/>
<rect x="1187" y="313" width="2" height="1" fill="#000"/>
<rect x="1187" y="346" width="2" height="1" fill="#000"/>
<rect x="1187" y="379" width="2" height="1" fill="#000"/>
<rect x="1187" y="412" width="2" height="1" fill="#000"/>
</g>
<text x="1192" y="20" fill="#000" stroke="#000" stroke-width="0.3" textLength="37.5" lengthAdjust="spacingAndGlyphs">4640.015</text>
<text x="1192" y="53" fill="#000" stroke="#000" stroke-width="0.3" textLength="37.5" lengthAdjust="spacingAndGlyphs">4596.950</text>
<text x="1192" y="86" fill="#000" stroke="#000" stroke-width="0.3" textLength="37.5" lengthAdjust="spacingAndGlyphs">4553.885</text>
<text x="1192" y="119" fill="#000" stroke="#000" stroke-width="0.3" textLength="37.5" lengthAdjust="spacingAndGlyphs">4510.820</text>
<text x="1192" y="152" fill="#000" stroke="#000" stroke-width="0.3" textLength="37.5" lengthAdjust="spacingAndGlyphs">4466.450</text>
<text x="1192" y="185" fill="#000" stroke="#000" stroke-width="0.3" textLength="37.5" lengthAdjust="spacingAndGlyphs">4423.385</text>
<text x="1192" y="218" fill="#000" stroke="#000" stroke-width="0.3" textLength="37.5" lengthAdjust="spacingAndGlyphs">4380.320</text>
<text x="1192" y="251" fill="#000" stroke="#000" stroke-width="0.3" textLength="37.5" lengthAdjust="spacingAndGlyphs">4337.255</text>
<text x="1192" y="284" fill="#000" stroke="#000" stroke-width="0.3" textLength="37.5" lengthAdjust="spacingAndGlyphs">4292.885</text>
<text x="1192" y="317" fill="#000" stroke="#000" stroke-width="0.3" textLength="37.5" lengthAdjust="spacingAndGlyphs">4249.820</text>
<text x="1192" y="350" fill="#000" stroke="#000" stroke-width="0.3" textLength="37.5" lengthAdjust="spacingAndGlyphs">4206.755</text>
<text x="1192" y="383" fill="#000" stroke="#000" stroke-width="0.3" textLength="37.5" lengthAdjust="spacingAndGlyphs">4163.690</text>
<text x="1192" y="416" fill="#000" stroke="#000" stroke-width="0.3" textLength="37.5" lengthAdjust="spacingAndGlyphs">4120.625</text>
<rect x="1189" y="14" width="44" height="11" fill="#ff0000" shape-rendering="crispEdges"/>
<text x="1192" y="23" fill="#fff" stroke="#fff" stroke-width="0.3" textLength="37.5" lengthAdjust="spacingAndGlyphs">4635.000</text>
<rect x="1189" y="102" width="44" height="11" fill="#ff0000" shape-rendering="crispEdges"/>
<text x="1192" y="111" fill="#fff" stroke="#fff" stroke-width="0.3" textLength="37.5" lengthAdjust="spacingAndGlyphs">4520.000</text>
<rect x="1189" y="178" width="44" height="11" fill="#00cc00" shape-rendering="crispEdges"/>
<text x="1192" y="187" fill="#fff" stroke="#fff" stroke-width="0.3" textLength="37.5" lengthAdjust="spacingAndGlyphs">4420.000</text>
<rect x="1189" y="254" width="44" height="11" fill="#3f57e0" shape-rendering="crispEdges"/>
<text x="1192" y="263" fill="#fff" stroke="#fff" stroke-width="0.3" textLength="37.5" lengthAdjust="spacingAndGlyphs">4320.000</text>
<rect x="1189" y="315" width="44" height="11" fill="#3f57e0" shape-rendering="crispEdges"/>
<text x="1192" y="324" fill="#fff" stroke="#fff" stroke-width="0.3" textLength="37.5" lengthAdjust="spacingAndGlyphs">4240.000</text>
<rect x="1189" y="203" width="44" height="11" fill="#000" shape-rendering="crispEdges"/>
<text x="1192" y="212" fill="#fff" stroke="#fff" stroke-width="0.3" textLength="37.5" lengthAdjust="spacingAndGlyphs">4388.550</text>
</g>
<g shape-rendering="crispEdges">
<rect x="4" y="496" width="1" height="8" fill="#c0c0c0"/>
<rect x="12" y="496" width="1" height="10" fill="#c0c0c0"/>
<rect x="20" y="496" width="1" height="12" fill="#c0c0c0"/>
<rect x="28" y="496" width="1" height="15" fill="#c0c0c0"/>
<rect x="36" y="496" width="1" height="20" fill="#c0c0c0"/>
<rect x="44" y="496" width="1" height="25" fill="#c0c0c0"/>
<rect x="52" y="496" width="1" height="28" fill="#c0c0c0"/>
<rect x="60" y="496" width="1" height="32" fill="#c0c0c0"/>
<rect x="68" y="496" width="1" height="34" fill="#c0c0c0"/>
<rect x="76" y="496" width="1" height="28" fill="#c0c0c0"/>
<rect x="84" y="496" width="1" height="20" fill="#c0c0c0"/>
<rect x="92" y="496" width="1" height="13" fill="#c0c0c0"/>
<rect x="100" y="496" width="1" height="8" fill="#c0c0c0"/>
<rect x="116" y="487" width="1" height="10" fill="#c0c0c0"/>
<rect x="124" y="478" width="1" height="19" fill="#c0c0c0"/>
<rect x="132" y="468" width="1" height="29" fill="#c0c0c0"/>
<rect x="140" y="460" width="1" height="37" fill="#c0c0c0"/>
<rect x="148" y="456" width="1" height="41" fill="#c0c0c0"/>
<rect x="156" y="452" width="1" height="45" fill="#c0c0c0"/>
<rect x="164" y="451" width="1" height="46" fill="#c0c0c0"/>
<rect x="172" y="449" width="1" height="48" fill="#c0c0c0"/>
<rect x="180" y="442" width="1" height="55" fill="#c0c0c0"/>
<rect x="188" y="440" width="1" height="57" fill="#c0c0c0"/>
<rect x="196" y="440" width="1" height="57" fill="#c0c0c0"/>
<rect x="204" y="439" width="1" height="58" fill="#c0c0c0"/>
<rect x="212" y="441" width="1" height="56" fill="#c0c0c0"/>
<rect x="220" y="439" width="1" height="58" fill="#c0c0c0"/>
<rect x="228" y="432" width="1" height="65" fill="#c0c0c0"/>
<rect x="236" y="428" width="1" height="69" fill="#c0c0c0"/>
<rect x="244" y="425" width="1" height="72" fill="#c0c0c0"/>
<rect x="252" y="425" width="1" height="72" fill="#c0c0c0"/>
<rect x="260" y="426" width="1" height="71" fill="#c0c0c0"/>
<rect x="268" y="426" width="1" height="71" fill="#c0c0c0"/>
<rect x="276" y="426" width="1" height="71" fill="#c0c0c0"/>
<rect x="284" y="427" width="1" height="70" fill="#c0c0c0"/>
<rect x="292" y="431" width="1" height="66" fill="#c0c0c0"/>
<rect x="300" y="434" width="1" height="63" fill="#c0c0c0"/>
<rect x="308" y="436" width="1" height="61" fill="#c0c0c0"/>
<rect x="316" y="438" width="1" height="59" fill="#c0c0c0"/>
<rect x="324" y="436" width="1" height="61" fill="#c0c0c0"/>
<rect x="332" y="433" width="1" height="64" fill="#c0c0c0"/>
<rect x="340" y="432" width="1" height="65" fill="#c0c0c0"/>
<rect x="348" y="433" width="1" height="64" fill="#c0c0c0"/>
<rect x="356" y="434" width="1" height="63" fill="#c0c0c0"/>
<rect x="364" y="437" width="1" height="60" fill="#c0c0c0"/>
<rect x="372" y="440" width="1" height="57" fill="#c0c0c0"/>
<rect x="380" y="448" width="1" height="49" fill="#c0c0c0"/>
<rect x="388" y="454" width="1" height="43" fill="#c0c0c0"/>
<rect x="396" y="459" width="1" height="38" fill="#c0c0c0"/>
<rect x="404" y="462" width="1" height="35" fill="#c0c0c0"/>
<rect x="412" y="465" width="1" height="32" fill="#c0c0c0"/>
<rect x="420" y="464" width="1" height="33" fill="#c0c0c0"/>
<rect x="428" y="462" width="1" height="35" fill="#c0c0c0"/>
<rect x="436" y="461" width="1" height="36" fill="#c0c0c0"/>
<rect x="444" y="460" width="1" height="37" fill="#c0c0c0"/>
<rect x="452" y="460" width="1" height="37" fill="#c0c0c0"/>
<rect x="460" y="458" width="1" height="39" fill="#c0c0c0"/>
<rect x="468" y="460" width="1" height="37" fill="#c0c0c0"/>
<rect x="476" y="459" width="1" height="38" fill="#c0c0c0"/>
<rect x="484" y="460" width="1" height="37" fill="#c0c0c0"/>
<rect x="492" y="460" width="1" height="37" fill="#c0c0c0"/>
<rect x="500" y="461" width="1" height="36" fill="#c0c0c0"/>
<rect x="508" y="458" width="1" height="39" fill="#c0c0c0"/>
<rect x="516" y="462" width="1" height="35" fill="#c0c0c0"/>
<rect x="524" y="460" width="1" height="37" fill="#c0c0c0"/>
<rect x="532" y="456" width="1" height="41" fill="#c0c0c0"/>
<rect x="540" y="455" width="1" height="42" fill="#c0c0c0"/>
<rect x="548" y="454" width="1" height="43" fill="#c0c0c0"/>
<rect x="556" y="451" width="1" height="46" fill="#c0c0c0"/>
<rect x="564" y="448" width="1" height="49" fill="#c0c0c0"/>
<rect x="572" y="444" width="1" height="53" fill="#c0c0c0"/>
<rect x="580" y="442" width="1" height="55" fill="#c0c0c0"/>
<rect x="588" y="441" width="1" height="56" fill="#c0c0c0"/>
<rect x="596" y="442" width="1" height="55" fill="#c0c0c0"/>
<rect x="604" y="443" width="1" height="54" fill="#c0c0c0"/>
<rect x="612" y="446" width="1" height="51" fill="#c0c0c0"/>
<rect x="620" y="449" width="1" height="48" fill="#c0c0c0"/>
<rect x="628" y="452" width="1" height="45" fill="#c0c0c0"/>
<rect x="636" y="454" width="1" height="43" fill="#c0c0c0"/>
<rect x="644" y="456" width="1" height="41" fill="#c0c0c0"/>
<rect x="652" y="459" width="1" height="38" fill="#c0c0c0"/>
<rect x="660" y="463" width="1" height="34" fill="#c0c0c0"/>
<rect x="668" y="474" width="1" height="23" fill="#c0c0c0"/>
<rect x="676" y="481" width="1" height="16" fill="#c0c0c0"/>
<rect x="684" y="486" width="1" height="11" fill="#c0c0c0"/>
<rect x="692" y="490" width="1" height="7" fill="#c0c0c0"/>
<rect x="700" y="492" width="1" height="5" fill="#c0c0c0"/>
<rect x="708" y="496" width="1" height="2" fill="#c0c0c0"/>
<rect x="716" y="496" width="1" height="4" fill="#c0c0c0"/>
<rect x="724" y="496" width="1" height="7" fill="#c0c0c0"/>
<rect x="732" y="496" width="1" height="8" fill="#c0c0c0"/>
<rect x="740" y="496" width="1" height="9" fill="#c0c0c0"/>
<rect x="748" y="496" width="1" height="8" fill="#c0c0c0"/>
<rect x="756" y="496" width="1" height="4" fill="#c0c0c0"/>
<rect x="764" y="496" width="1" height="2" fill="#c0c0c0"/>
<rect x="772" y="496" width="1" height="1" fill="#c0c0c0"/>
<rect x="780" y="495" width="1" height="2" fill="#c0c0c0"/>
<rect x="788" y="492" width="1" height="5" fill="#c0c0c0"/>
<rect x="796" y="492" width="1" height="5" fill="#c0c0c0"/>
<rect x="804" y="494" width="1" height="3" fill="#c0c0c0"/>
<rect x="812" y="496" width="1" height="2" fill="#c0c0c0"/>
<rect x="820" y="496" width="1" height="6" fill="#c0c0c0"/>
<rect x="828" y="496" width="1" height="10" fill="#c0c0c0"/>
<rect x="836" y="496" width="1" height="14" fill="#c0c0c0"/>
<rect x="844" y="496" width="1" height="20" fill="#c0c0c0"/>
<rect x="852" y="496" width="1" height="25" fill="#c0c0c0"/>
<rect x="860" y="496" width="1" height="28" fill="#c0c0c0"/>
<rect x="868" y="496" width="1" height="32" fill="#c0c0c0"/>
<rect x="876" y="496" width="1" height="36" fill="#c0c0c0"/>
<rect x="884" y="496" width="1" height="36" fill="#c0c0c0"/>
<rect x="892" y="496" width="1" height="34" fill="#c0c0c0"/>
<rect x="900" y="496" width="1" height="36" fill="#c0c0c0"/>
<rect x="908" y="496" width="1" height="31" fill="#c0c0c0"/>
<rect x="916" y="496" width="1" height="27" fill="#c0c0c0"/>
<rect x="924" y="496" width="1" height="24" fill="#c0c0c0"/>
<rect x="932" y="496" width="1" height="20" fill="#c0c0c0"/>
<rect x="940" y="496" width="1" height="16" fill="#c0c0c0"/>
<rect x="948" y="496" width="1" height="15" fill="#c0c0c0"/>
<rect x="956" y="496" width="1" height="14" fill="#c0c0c0"/>
<rect x="964" y="496" width="1" height="16" fill="#c0c0c0"/>
<rect x="972" y="496" width="1" height="17" fill="#c0c0c0"/>
<rect x="980" y="496" width="1" height="20" fill="#c0c0c0"/>
<rect x="988" y="496" width="1" height="22" fill="#c0c0c0"/>
<rect x="996" y="496" width="1" height="26" fill="#c0c0c0"/>
<rect x="1004" y="496" width="1" height="30" fill="#c0c0c0"/>
<rect x="1012" y="496" width="1" height="36" fill="#c0c0c0"/>
<rect x="1020" y="496" width="1" height="40" fill="#c0c0c0"/>
<rect x="1028" y="496" width="1" height="44" fill="#c0c0c0"/>
<rect x="1036" y="496" width="1" height="43" fill="#c0c0c0"/>
<rect x="1044" y="496" width="1" height="38" fill="#c0c0c0"/>
<rect x="1052" y="496" width="1" height="40" fill="#c0c0c0"/>
<rect x="1060" y="496" width="1" height="40" fill="#c0c0c0"/>
<rect x="1068" y="496" width="1" height="39" fill="#c0c0c0"/>
<rect x="1076" y="496" width="1" height="37" fill="#c0c0c0"/>
<rect x="1084" y="496" width="1" height="36" fill="#c0c0c0"/>
<rect x="1092" y="496" width="1" height="33" fill="#c0c0c0"/>
<rect x="1100" y="496" width="1" height="28" fill="#c0c0c0"/>
<rect x="1108" y="496" width="1" height="24" fill="#c0c0c0"/>
<rect x="1116" y="496" width="1" height="20" fill="#c0c0c0"/>
<rect x="1124" y="496" width="1" height="16" fill="#c0c0c0"/>
<rect x="1132" y="496" width="1" height="15" fill="#c0c0c0"/>
<rect x="1140" y="496" width="1" height="16" fill="#c0c0c0"/>
<rect x="1148" y="496" width="1" height="18" fill="#c0c0c0"/>
<rect x="1156" y="496" width="1" height="20" fill="#c0c0c0"/>
<rect x="1164" y="496" width="1" height="22" fill="#c0c0c0"/>
</g>
<path d="M282 427.5h5M290 427.5h5M298 427.5h5M274 428.5h5M306 428.5h5M266 429.5h5M314 429.5h5M262 430.5h1M322 430.5h5M258 431.5h4M330 431.5h5M254 432.5h1M338 432.5h5M250 433.5h4M346 433.5h5M354 433.5h5M246 434.5h1M362 434.5h5M370 434.5h5M243 435.5h3M378 435.5h4M242 436.5h1M382 436.5h1M238 437.5h1M386 437.5h4M234 438.5h4M390 438.5h1M230 439.5h1M394 439.5h1M227 440.5h3M395 440.5h3M226 441.5h1M398 441.5h1M222 442.5h1M402 442.5h1M218 443.5h4M403 443.5h2M214 444.5h1M405 444.5h2M618 444.5h5M626 444.5h5M210 445.5h4M610 445.5h5M634 445.5h5M206 446.5h1M410 446.5h1M602 446.5h5M642 446.5h4M203 447.5h3M411 447.5h3M594 447.5h5M646 447.5h1M202 448.5h1M414 448.5h1M590 448.5h1M650 448.5h4M198 449.5h1M418 449.5h1M587 449.5h3M654 449.5h1M195 450.5h3M419 450.5h2M586 450.5h1M658 450.5h1M194 451.5h1M421 451.5h2M582 451.5h1M659 451.5h3M578 452.5h4M662 452.5h1M189 453.5h2M426 453.5h1M570 453.5h5M666 453.5h1M188 454.5h1M427 454.5h3M566 454.5h1M667 454.5h2M186 455.5h2M430 455.5h1M562 455.5h4M669 455.5h2M434 456.5h4M554 456.5h5M438 457.5h1M546 457.5h5M674 457.5h1M181 458.5h2M442 458.5h4M530 458.5h5M538 458.5h5M675 458.5h2M180 459.5h1M446 459.5h1M482 459.5h5M490 459.5h5M498 459.5h5M506 459.5h5M514 459.5h5M522 459.5h5M677 459.5h2M178 460.5h2M450 460.5h5M458 460.5h5M466 460.5h5M474 460.5h5M682 461.5h1M683 462.5h2M174 463.5h1M685 463.5h2M173 464.5h1M172 465.5h1M170 466.5h2M690 466.5h2M692 467.5h1M693 468.5h2M166 469.5h1M165 470.5h1M698 470.5h1M164 471.5h1M699 471.5h2M162 472.5h2M701 472.5h2M158 475.5h1M706 475.5h2M157 476.5h1M708 476.5h1M156 477.5h1M709 477.5h2M155 478.5h1M154 479.5h1M714 480.5h2M716 481.5h1M150 482.5h1M717 482.5h2M149 483.5h1M148 484.5h1M147 485.5h1M722 485.5h2M146 486.5h1M724 486.5h1M725 487.5h2M730 489.5h1M142 490.5h1M731 490.5h2M141 491.5h1M733 491.5h2M140 492.5h1M139 493.5h1M738 493.5h1M138 494.5h1M739 494.5h2M741 495.5h2M810 496.5h5M818 496.5h5M826 496.5h4M746 497.5h1M802 497.5h5M830 497.5h1M134 498.5h1M747 498.5h4M794 498.5h5M834 498.5h4M4 499.5h3M133 499.5h1M754 499.5h5M786 499.5h5M838 499.5h1M10 500.5h5M18 500.5h5M132 500.5h1M762 500.5h5M770 500.5h5M778 500.5h5M842 500.5h4M26 501.5h4M131 501.5h1M846 501.5h1M30 502.5h1M130 502.5h1M850 502.5h1M34 503.5h1M851 503.5h3M35 504.5h2M854 504.5h1M37 505.5h2M858 505.5h1M126 506.5h1M859 506.5h2M42 507.5h1M125 507.5h1M861 507.5h2M43 508.5h3M123 508.5h2M46 509.5h1M122 509.5h1M50 510.5h1M866 510.5h2M51 511.5h3M117 511.5h2M868 511.5h1M54 512.5h1M115 512.5h2M869 512.5h2M58 513.5h1M114 513.5h1M59 514.5h3M874 514.5h1M62 515.5h1M109 515.5h2M875 515.5h3M986 515.5h5M994 515.5h5M66 516.5h1M106 516.5h3M878 516.5h1M970 516.5h5M978 516.5h5M1002 516.5h4M1162 516.5h2M67 517.5h3M102 517.5h1M882 517.5h1M966 517.5h1M1006 517.5h1M1154 517.5h5M70 518.5h1M98 518.5h4M883 518.5h2M962 518.5h4M1010 518.5h4M1146 518.5h5M74 519.5h5M90 519.5h5M885 519.5h2M958 519.5h1M1014 519.5h1M1142 519.5h1M82 520.5h5M954 520.5h4M1018 520.5h1M1138 520.5h4M890 521.5h1M950 521.5h1M1019 521.5h3M1134 521.5h1M891 522.5h3M946 522.5h4M1022 522.5h1M1131 522.5h3M894 523.5h1M942 523.5h1M1026 523.5h1M1130 523.5h1M898 524.5h1M938 524.5h4M1027 524.5h3M1126 524.5h1M899 525.5h4M934 525.5h1M1030 525.5h1M1123 525.5h3M906 526.5h5M930 526.5h4M1034 526.5h1M1122 526.5h1M914 527.5h5M922 527.5h5M1035 527.5h3M1118 527.5h1M1038 528.5h1M1115 528.5h3M1042 529.5h1M1114 529.5h1M1043 530.5h3M1110 530.5h1M1046 531.5h1M1106 531.5h4M1050 532.5h4M1098 532.5h5M1054 533.5h1M1094 533.5h1M1058 534.5h5M1090 534.5h4M1066 535.5h5M1082 535.5h5M1074 536.5h5" fill="none" stroke="#ff0000" stroke-width="1" shape-rendering="crispEdges"/>
<g shape-rendering="crispEdges">
<line x1="5" y1="585.5" x2="1186" y2="585.5" stroke="#c0c0c0" stroke-dasharray="3 3"/>
<line x1="5" y1="633.5" x2="1186" y2="633.5" stroke="#c0c0c0" stroke-dasharray="3 3"/>
</g>
<path d="M330 580.5h20M571 580.5h3M326 581.5h4M350 581.5h2M569 581.5h2M574 581.5h4M324 582.5h2M352 582.5h3M567 582.5h2M578 582.5h4M322 583.5h2M355 583.5h2M565 583.5h2M582 583.5h4M321 584.5h1M357 584.5h1M562 584.5h3M586 584.5h4M180 585.5h1M228 585.5h18M272 585.5h5M320 585.5h1M358 585.5h1M558 585.5h4M590 585.5h4M178 586.5h2M181 586.5h1M226 586.5h2M246 586.5h2M267 586.5h5M277 586.5h2M318 586.5h2M359 586.5h1M458 586.5h3M555 586.5h3M594 586.5h11M136 587.5h5M177 587.5h1M182 587.5h2M224 587.5h2M248 587.5h3M264 587.5h3M279 587.5h2M317 587.5h1M360 587.5h1M454 587.5h4M461 587.5h1M552 587.5h3M605 587.5h2M131 588.5h5M141 588.5h2M176 588.5h1M184 588.5h1M223 588.5h1M251 588.5h5M262 588.5h2M281 588.5h2M314 588.5h3M360 588.5h1M448 588.5h6M461 588.5h1M550 588.5h2M607 588.5h2M128 589.5h3M143 589.5h2M174 589.5h2M185 589.5h1M221 589.5h2M256 589.5h6M283 589.5h3M310 589.5h4M361 589.5h1M427 589.5h5M440 589.5h8M462 589.5h1M508 589.5h1M544 589.5h6M609 589.5h2M126 590.5h2M145 590.5h2M152 590.5h5M173 590.5h1M186 590.5h2M220 590.5h1M286 590.5h4M307 590.5h3M362 590.5h1M424 590.5h3M432 590.5h8M463 590.5h1M476 590.5h1M506 590.5h2M509 590.5h1M524 590.5h4M536 590.5h8M611 590.5h2M123 591.5h3M147 591.5h5M157 591.5h2M171 591.5h2M188 591.5h2M202 591.5h3M218 591.5h2M290 591.5h4M304 591.5h3M363 591.5h1M368 591.5h5M422 591.5h2M463 591.5h1M475 591.5h1M477 591.5h2M504 591.5h2M509 591.5h1M523 591.5h1M528 591.5h8M613 591.5h2M120 592.5h3M159 592.5h2M168 592.5h3M190 592.5h4M198 592.5h4M205 592.5h2M217 592.5h1M294 592.5h4M302 592.5h2M364 592.5h4M373 592.5h1M420 592.5h2M464 592.5h1M474 592.5h1M479 592.5h2M503 592.5h1M510 592.5h1M523 592.5h1M615 592.5h2M634 592.5h11M118 593.5h2M161 593.5h2M166 593.5h2M194 593.5h4M207 593.5h1M216 593.5h1M298 593.5h4M373 593.5h1M419 593.5h1M465 593.5h1M473 593.5h1M481 593.5h2M501 593.5h2M511 593.5h1M522 593.5h1M617 593.5h2M630 593.5h4M645 593.5h2M115 594.5h3M163 594.5h3M208 594.5h2M214 594.5h2M374 594.5h1M418 594.5h1M465 594.5h1M472 594.5h1M483 594.5h3M498 594.5h3M511 594.5h1M521 594.5h1M619 594.5h11M647 594.5h2M112 595.5h3M210 595.5h2M213 595.5h1M374 595.5h1M417 595.5h1M466 595.5h1M471 595.5h1M486 595.5h4M494 595.5h4M512 595.5h1M520 595.5h1M649 595.5h2M110 596.5h2M212 596.5h1M375 596.5h1M416 596.5h1M467 596.5h1M470 596.5h1M490 596.5h4M513 596.5h1M520 596.5h1M651 596.5h2M108 597.5h2M375 597.5h1M415 597.5h1M467 597.5h1M469 597.5h1M513 597.5h1M519 597.5h1M653 597.5h2M107 598.5h1M376 598.5h1M414 598.5h1M468 598.5h1M514 598.5h1M518 598.5h1M655 598.5h2M106 599.5h1M376 599.5h1M413 599.5h1M515 599.5h1M517 599.5h1M657 599.5h2M104 600.5h2M377 600.5h1M408 600.5h5M515 600.5h1M517 600.5h1M659 600.5h2M787 600.5h2M103 601.5h1M377 601.5h1M400 601.5h8M516 601.5h1M660 601.5h1M763 601.5h3M784 601.5h3M789 601.5h2M102 602.5h1M378 602.5h1M394 602.5h6M661 602.5h1M761 602.5h2M766 602.5h4M782 602.5h2M791 602.5h1M84 603.5h4M101 603.5h1M378 603.5h1M390 603.5h4M661 603.5h1M759 603.5h2M770 603.5h12M792 603.5h2M82 604.5h2M88 604.5h13M379 604.5h1M387 604.5h3M661 604.5h1M757 604.5h2M794 604.5h2M80 605.5h2M379 605.5h1M384 605.5h3M662 605.5h1M756 605.5h1M796 605.5h1M79 606.5h1M380 606.5h1M382 606.5h2M662 606.5h1M754 606.5h2M797 606.5h1M77 607.5h2M380 607.5h2M663 607.5h1M753 607.5h1M798 607.5h1M932 607.5h2M76 608.5h1M663 608.5h1M752 608.5h1M799 608.5h1M930 608.5h2M934 608.5h4M1114 608.5h6M75 609.5h1M663 609.5h1M750 609.5h2M800 609.5h1M929 609.5h1M938 609.5h6M1100 609.5h4M1110 609.5h4M1120 609.5h5M75 610.5h1M664 610.5h1M749 610.5h1M800 610.5h1M928 610.5h1M944 610.5h5M1099 610.5h1M1104 610.5h6M1125 610.5h2M74 611.5h1M664 611.5h1M748 611.5h1M801 611.5h1M926 611.5h2M949 611.5h2M1098 611.5h1M1127 611.5h2M10 612.5h3M73 612.5h1M664 612.5h1M746 612.5h2M802 612.5h1M912 612.5h8M925 612.5h1M951 612.5h1M1096 612.5h2M1129 612.5h2M6 613.5h4M13 613.5h2M73 613.5h1M665 613.5h1M744 613.5h2M803 613.5h1M908 613.5h4M920 613.5h5M952 613.5h2M1095 613.5h1M1131 613.5h2M4 614.5h2M15 614.5h2M72 614.5h1M665 614.5h1M698 614.5h3M731 614.5h3M743 614.5h1M804 614.5h1M908 614.5h1M954 614.5h2M1044 614.5h1M1094 614.5h1M1133 614.5h2M17 615.5h2M71 615.5h1M665 615.5h1M694 615.5h4M701 615.5h1M716 615.5h2M729 615.5h2M734 615.5h4M741 615.5h2M805 615.5h1M907 615.5h1M956 615.5h1M1043 615.5h1M1045 615.5h1M1093 615.5h1M1135 615.5h1M19 616.5h10M71 616.5h1M666 616.5h1M682 616.5h12M702 616.5h1M715 616.5h1M718 616.5h2M727 616.5h2M738 616.5h3M806 616.5h1M907 616.5h1M957 616.5h2M1042 616.5h1M1046 616.5h1M1092 616.5h1M1136 616.5h2M29 617.5h1M70 617.5h1M666 617.5h1M678 617.5h4M702 617.5h1M714 617.5h1M720 617.5h3M725 617.5h2M807 617.5h1M906 617.5h1M959 617.5h2M1042 617.5h1M1046 617.5h1M1090 617.5h2M1138 617.5h2M30 618.5h2M69 618.5h1M667 618.5h1M675 618.5h3M703 618.5h1M713 618.5h1M723 618.5h2M808 618.5h2M906 618.5h1M961 618.5h2M980 618.5h2M1041 618.5h1M1047 618.5h1M1067 618.5h10M1089 618.5h1M1140 618.5h1M32 619.5h1M69 619.5h1M667 619.5h1M673 619.5h2M704 619.5h1M712 619.5h1M810 619.5h1M905 619.5h1M963 619.5h2M978 619.5h2M982 619.5h2M1040 619.5h1M1048 619.5h1M1064 619.5h3M1077 619.5h2M1088 619.5h1M1141 619.5h2M33 620.5h1M67 620.5h2M667 620.5h1M671 620.5h2M705 620.5h1M712 620.5h1M811 620.5h1M905 620.5h1M965 620.5h2M977 620.5h1M984 620.5h3M1039 620.5h1M1049 620.5h1M1062 620.5h2M1079 620.5h2M1086 620.5h2M1143 620.5h2M34 621.5h2M48 621.5h6M65 621.5h2M668 621.5h3M706 621.5h1M711 621.5h1M812 621.5h10M904 621.5h1M967 621.5h1M976 621.5h1M987 621.5h2M1038 621.5h1M1050 621.5h1M1059 621.5h3M1081 621.5h2M1085 621.5h1M1145 621.5h2M36 622.5h12M54 622.5h2M63 622.5h2M668 622.5h1M706 622.5h1M710 622.5h1M822 622.5h4M891 622.5h2M904 622.5h1M968 622.5h2M974 622.5h2M989 622.5h1M1038 622.5h1M1050 622.5h1M1056 622.5h3M1083 622.5h2M1147 622.5h17M56 623.5h3M61 623.5h2M707 623.5h1M709 623.5h1M826 623.5h4M889 623.5h2M893 623.5h1M903 623.5h1M970 623.5h2M973 623.5h1M990 623.5h1M1037 623.5h1M1051 623.5h1M1054 623.5h2M59 624.5h2M708 624.5h1M830 624.5h2M887 624.5h2M894 624.5h1M903 624.5h1M972 624.5h1M991 624.5h1M1036 624.5h1M1052 624.5h2M832 625.5h3M885 625.5h2M895 625.5h1M902 625.5h1M992 625.5h2M1035 625.5h1M835 626.5h2M884 626.5h1M896 626.5h1M902 626.5h1M994 626.5h1M1034 626.5h1M837 627.5h1M883 627.5h1M897 627.5h1M901 627.5h1M995 627.5h1M1034 627.5h1M838 628.5h2M882 628.5h1M898 628.5h1M901 628.5h1M996 628.5h1M1033 628.5h1M840 629.5h1M881 629.5h1M899 629.5h2M997 629.5h2M1032 629.5h1M841 630.5h1M880 630.5h1M900 630.5h1M999 630.5h2M1031 630.5h1M842 631.5h2M859 631.5h5M879 631.5h1M1001 631.5h2M1030 631.5h1M844 632.5h2M856 632.5h3M864 632.5h6M878 632.5h1M1003 632.5h10M1030 632.5h1M846 633.5h4M854 633.5h2M870 633.5h4M877 633.5h1M1013 633.5h2M1029 633.5h1M850 634.5h4M874 634.5h3M1015 634.5h2M1026 634.5h3M1017 635.5h2M1022 635.5h4M1019 636.5h3" fill="none" stroke="#1e90ff" stroke-width="1" shape-rendering="crispEdges"/>
<g font-family="'Liberation Sans', sans-serif" font-size="9.7">
<text x="7.7" y="430" fill="#000" stroke="#000" stroke-width="0.3" textLength="65.6" lengthAdjust="spacingAndGlyphs">MACD(12,26,9)</text>
<text x="77.5" y="430" fill="#000" stroke="#000" stroke-width="0.3" textLength="34.3" lengthAdjust="spacingAndGlyphs">-16.1883</text>
<text x="116.3" y="430" fill="#000" stroke="#000" stroke-width="0.3" textLength="34.7" lengthAdjust="spacingAndGlyphs">-14.2075</text>
<text x="7.7" y="561" fill="#000" stroke="#000" stroke-width="0.3" textLength="31.2" lengthAdjust="spacingAndGlyphs">RSI(14)</text>
<text x="43" y="561" fill="#000" stroke="#000" stroke-width="0.3" textLength="32.0" lengthAdjust="spacingAndGlyphs">38.1920</text>
<rect x="1187" y="419" width="1" height="1" fill="#000" shape-rendering="crispEdges"/>
<rect x="1187" y="496" width="1" height="1" fill="#000" shape-rendering="crispEdges"/>
<rect x="1187" y="545" width="1" height="1" fill="#000" shape-rendering="crispEdges"/>
<rect x="1187" y="550" width="1" height="1" fill="#000" shape-rendering="crispEdges"/>
<rect x="1187" y="668" width="1" height="1" fill="#000" shape-rendering="crispEdges"/>
<text x="1190" y="428" fill="#000" stroke="#000" stroke-width="0.3" textLength="26.7" lengthAdjust="spacingAndGlyphs">52.889</text>
<text x="1190" y="500" fill="#000" stroke="#000" stroke-width="0.3" textLength="17.0" lengthAdjust="spacingAndGlyphs">0.00</text>
<text x="1190" y="543" fill="#000" stroke="#000" stroke-width="0.3" textLength="34.5" lengthAdjust="spacingAndGlyphs">-34.2569</text>
<text x="1190" y="559" fill="#000" stroke="#000" stroke-width="0.3" textLength="14.6" lengthAdjust="spacingAndGlyphs">100</text>
<text x="1188.8" y="589" fill="#000" stroke="#000" stroke-width="0.3" textLength="9.7" lengthAdjust="spacingAndGlyphs">70</text>
<text x="1188.8" y="637" fill="#000" stroke="#000" stroke-width="0.3" textLength="9.7" lengthAdjust="spacingAndGlyphs">30</text>
<text x="1190" y="666" fill="#000" stroke="#000" stroke-width="0.3" textLength="4.9" lengthAdjust="spacingAndGlyphs">0</text>
<rect x="4" y="670" width="1" height="3" fill="#000" shape-rendering="crispEdges"/>
<text x="3" y="682" fill="#000" stroke="#000" stroke-width="0.3" textLength="51.7" lengthAdjust="spacingAndGlyphs">14 Mar 2022</text>
<rect x="68" y="670" width="1" height="3" fill="#000" shape-rendering="crispEdges"/>
<text x="67" y="682" fill="#000" stroke="#000" stroke-width="0.3" textLength="54.3" lengthAdjust="spacingAndGlyphs">15 Mar 08:00</text>
<rect x="132" y="670" width="1" height="3" fill="#000" shape-rendering="crispEdges"/>
<text x="131" y="682" fill="#000" stroke="#000" stroke-width="0.3" textLength="54.3" lengthAdjust="spacingAndGlyphs">16 Mar 16:00</text>
<rect x="196" y="670" width="1" height="3" fill="#000" shape-rendering="crispEdges"/>
<text x="195" y="682" fill="#000" stroke="#000" stroke-width="0.3" textLength="54.3" lengthAdjust="spacingAndGlyphs">18 Mar 00:00</text>
<rect x="260" y="670" width="1" height="3" fill="#000" shape-rendering="crispEdges"/>
<text x="259" y="682" fill="#000" stroke="#000" stroke-width="0.3" textLength="54.3" lengthAdjust="spacingAndGlyphs">21 Mar 04:00</text>
<rect x="324" y="670" width="1" height="3" fill="#000" shape-rendering="crispEdges"/>
<text x="323" y="682" fill="#000" stroke="#000" stroke-width="0.3" textLength="54.3" lengthAdjust="spacingAndGlyphs">22 Mar 12:00</text>
<rect x="388" y="670" width="1" height="3" fill="#000" shape-rendering="crispEdges"/>
<text x="387" y="682" fill="#000" stroke="#000" stroke-width="0.3" textLength="54.3" lengthAdjust="spacingAndGlyphs">23 Mar 20:00</text>
<rect x="452" y="670" width="1" height="3" fill="#000" shape-rendering="crispEdges"/>
<text x="451" y="682" fill="#000" stroke="#000" stroke-width="0.3" textLength="54.3" lengthAdjust="spacingAndGlyphs">25 Mar 04:00</text>
<rect x="516" y="670" width="1" height="3" fill="#000" shape-rendering="crispEdges"/>
<text x="515" y="682" fill="#000" stroke="#000" stroke-width="0.3" textLength="54.3" lengthAdjust="spacingAndGlyphs">28 Mar 12:00</text>
<rect x="580" y="670" width="1" height="3" fill="#000" shape-rendering="crispEdges"/>
<text x="579" y="682" fill="#000" stroke="#000" stroke-width="0.3" textLength="54.3" lengthAdjust="spacingAndGlyphs">29 Mar 20:00</text>
<rect x="644" y="670" width="1" height="3" fill="#000" shape-rendering="crispEdges"/>
<text x="643" y="682" fill="#000" stroke="#000" stroke-width="0.3" textLength="54.3" lengthAdjust="spacingAndGlyphs">31 Mar 04:00</text>
<rect x="708" y="670" width="1" height="3" fill="#000" shape-rendering="crispEdges"/>
<text x="707" y="682" fill="#000" stroke="#000" stroke-width="0.3" textLength="47.1" lengthAdjust="spacingAndGlyphs">1 Apr 12:00</text>
<rect x="772" y="670" width="1" height="3" fill="#000" shape-rendering="crispEdges"/>
<text x="771" y="682" fill="#000" stroke="#000" stroke-width="0.3" textLength="47.1" lengthAdjust="spacingAndGlyphs">4 Apr 20:00</text>
<rect x="836" y="670" width="1" height="3" fill="#000" shape-rendering="crispEdges"/>
<text x="835" y="682" fill="#000" stroke="#000" stroke-width="0.3" textLength="47.1" lengthAdjust="spacingAndGlyphs">6 Apr 04:00</text>
<rect x="900" y="670" width="1" height="3" fill="#000" shape-rendering="crispEdges"/>
<text x="899" y="682" fill="#000" stroke="#000" stroke-width="0.3" textLength="47.1" lengthAdjust="spacingAndGlyphs">7 Apr 12:00</text>
<rect x="964" y="670" width="1" height="3" fill="#000" shape-rendering="crispEdges"/>
<text x="963" y="682" fill="#000" stroke="#000" stroke-width="0.3" textLength="52.3" lengthAdjust="spacingAndGlyphs">10 Apr 23:00</text>
<rect x="1028" y="670" width="1" height="3" fill="#000" shape-rendering="crispEdges"/>
<text x="1027" y="682" fill="#000" stroke="#000" stroke-width="0.3" textLength="52.3" lengthAdjust="spacingAndGlyphs">12 Apr 04:00</text>
<rect x="1092" y="670" width="1" height="3" fill="#000" shape-rendering="crispEdges"/>
<text x="1091" y="682" fill="#000" stroke="#000" stroke-width="0.3" textLength="52.3" lengthAdjust="spacingAndGlyphs">13 Apr 12:00</text>
<rect x="1156" y="670" width="1" height="3" fill="#000" shape-rendering="crispEdges"/>
<text x="1155" y="682" fill="#000" stroke="#000" stroke-width="0.3" textLength="52.3" lengthAdjust="spacingAndGlyphs">14 Apr 20:00</text>
</g>
</svg>
</body></html>
